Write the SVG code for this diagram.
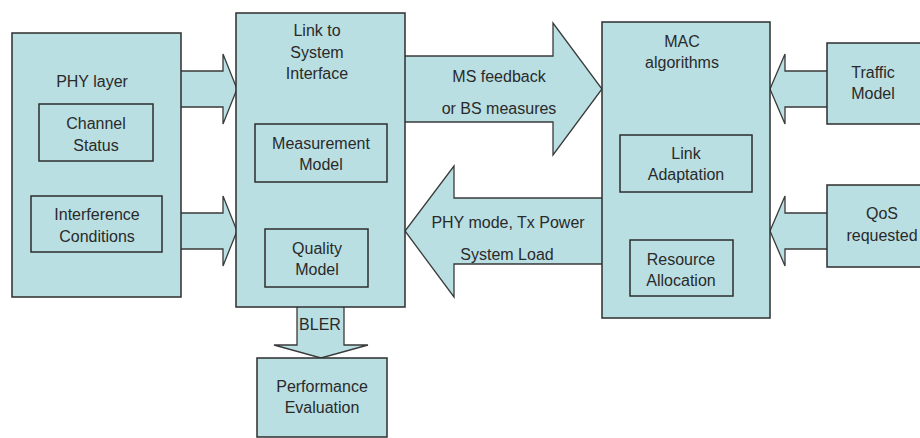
<svg xmlns="http://www.w3.org/2000/svg" width="920" height="438" viewBox="0 0 920 438">
<style>
.b{fill:#b9dfe2;stroke:#2e2e2e;stroke-width:1.5}
.i{fill:none;stroke:#2e2e2e;stroke-width:1.5}
.a{fill:#b9dfe2;stroke:#3a3a3a;stroke-width:1.3;stroke-linejoin:miter}
text{font-family:"Liberation Sans",Arial,sans-serif;font-size:16px;fill:#2a2a2a;text-anchor:middle}
</style>
<rect width="920" height="438" fill="#ffffff"/>
<g id="connectors">
<polygon class="a" points="175,71 223,71 223,54 237,89 223,124 223,107 175,107"/>
<polygon class="a" points="175,213 223,213 223,196 237,231 223,266 223,249 175,249"/>
<polygon class="a" points="399,56 553,56 553,23 602,89 553,155 553,122 399,122"/>
<polygon class="a" points="608,198 454,198 454,166 405,231 454,297 454,264 608,264"/>
<polygon class="a" points="833,71 785,71 785,54 770,89 785,124 785,107 833,107"/>
<polygon class="a" points="833,213 785,213 785,196 770,231 785,266 785,249 833,249"/>
<polygon class="a" points="297,301 344,301 344,345 368,345 321,358 274,345 297,345"/>
<text x="499" y="82">MS feedback</text>
<text x="499" y="114">or BS measures</text>
<text x="508" y="228">PHY mode, Tx Power</text>
<text x="507" y="260">System Load</text>
<text x="320" y="330">BLER</text>
</g>
<g id="phy">
<rect class="b" x="12" y="33" width="169" height="264"/>
<text x="92" y="87">PHY layer</text>
<rect class="i" x="39" y="104" width="114" height="57"/>
<text x="96" y="129">Channel</text>
<text x="96" y="151">Status</text>
<rect class="i" x="31" y="196" width="131" height="56"/>
<text x="97" y="220">Interference</text>
<text x="97" y="242">Conditions</text>
</g>
<g id="l2s">
<rect class="b" x="236" y="13" width="169" height="294"/>
<text x="317" y="36">Link to</text>
<text x="317" y="58">System</text>
<text x="317" y="79">Interface</text>
<rect class="i" x="255" y="124" width="132" height="58"/>
<text x="321" y="149">Measurement</text>
<text x="321" y="170">Model</text>
<rect class="i" x="265" y="229" width="103" height="58"/>
<text x="317" y="254">Quality</text>
<text x="317" y="275">Model</text>
</g>
<g id="mac">
<rect class="b" x="602" y="22" width="168" height="296"/>
<text x="682" y="47">MAC</text>
<text x="682" y="68">algorithms</text>
<rect class="i" x="620" y="135" width="132" height="57"/>
<text x="686" y="159">Link</text>
<text x="686" y="180">Adaptation</text>
<rect class="i" x="630" y="240" width="103" height="56"/>
<text x="681" y="265">Resource</text>
<text x="681" y="286">Allocation</text>
</g>
<g id="traffic">
<rect class="b" x="827" y="43" width="100" height="81"/>
<text x="873" y="78">Traffic</text>
<text x="873" y="99">Model</text>
</g>
<g id="qos">
<rect class="b" x="827" y="185" width="100" height="82"/>
<text x="882" y="219">QoS</text>
<text x="882" y="241">requested</text>
</g>
<g id="perf">
<rect class="b" x="257" y="358" width="130" height="79"/>
<text x="322" y="392">Performance</text>
<text x="322" y="413">Evaluation</text>
</g>
</svg>
